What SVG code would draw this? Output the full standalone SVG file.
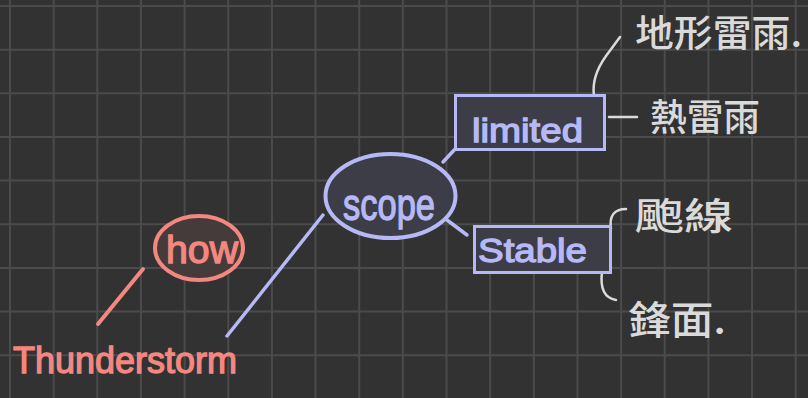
<svg xmlns="http://www.w3.org/2000/svg" width="808" height="398" viewBox="0 0 808 398">
<style>
.grid{stroke:#4b4b4b;stroke-width:2;fill:none}
.red{fill:#f4877f;stroke:#f4877f;stroke-width:1.3}
.blue{fill:#b7b9f7;stroke:#b7b9f7;stroke-width:1.3}
.gray{fill:#dadada}
.hand{font-family:"Liberation Sans",Arial,sans-serif}
.cjk{font-family:"Noto Sans CJK TC","Noto Sans CJK SC",sans-serif;font-weight:500}
.cr{stroke:#f4877f;stroke-width:4;fill:none;stroke-linecap:round}
.cb{stroke:#b7b9f7;stroke-width:3.5;fill:none;stroke-linecap:round}
.cg{stroke:#dadada;stroke-width:2.5;fill:none;stroke-linecap:round}
.bnode{fill:#3c3d47;stroke:#b7b9f7}
</style>
<rect width="808" height="398" fill="#323232"/>
<path class="grid" d="M10,0V398M53.65,0V398M97.3,0V398M140.95,0V398M184.6,0V398M228.25,0V398M271.9,0V398M315.55,0V398M359.2,0V398M402.85,0V398M446.5,0V398M490.15,0V398M533.8,0V398M577.45,0V398M621.1,0V398M664.75,0V398M708.4,0V398M752.05,0V398M795.7,0V398M0,6H808M0,49.65H808M0,93.3H808M0,136.95H808M0,180.6H808M0,224.25H808M0,267.9H808M0,311.55H808M0,355.2H808"/>
<g id="connectors">
<path class="cr" d="M143,269 L98,324"/>
<path class="cb" d="M227,336 L323,215"/>
<path class="cb" d="M443,162 L457,147"/>
<path class="cb" d="M447,220 L467,235"/>
<path class="cg" d="M594,96 C592,82 596,70 606,56 L620,37"/>
<path class="cg" d="M609,117 L637,117"/>
<path class="cg" d="M611,229 C609,216 614,209 626,209"/>
<path class="cg" d="M602,272 C600,288 604,298 616,300"/>
</g>
<g id="node-how">
<ellipse cx="199" cy="248" rx="44" ry="32" fill="#453b3b" stroke="#f4877f" stroke-width="4"/>
<text class="hand red" x="166" y="263" font-size="38" textLength="72" lengthAdjust="spacingAndGlyphs">how</text>
</g>
<g id="node-thunderstorm">
<text class="hand red" x="13" y="373" font-size="36" textLength="224" lengthAdjust="spacingAndGlyphs">Thunderstorm</text>
</g>
<g id="node-scope">
<ellipse cx="390.5" cy="196" rx="65" ry="42" class="bnode" stroke-width="4"/>
<text class="hand blue" x="343" y="220" font-size="44" textLength="92" lengthAdjust="spacingAndGlyphs">scope</text>
</g>
<g id="node-limited">
<rect x="455.5" y="95.5" width="149" height="54" class="bnode" stroke-width="3"/>
<text class="hand blue" x="472" y="142" font-size="33" textLength="111" lengthAdjust="spacingAndGlyphs">limited</text>
</g>
<g id="node-stable">
<rect x="474.5" y="226.5" width="136" height="46" class="bnode" stroke-width="3"/>
<text class="hand blue" x="478" y="262" font-size="34" textLength="109" lengthAdjust="spacingAndGlyphs">Stable</text>
</g>
<g id="node-orographic">
<text class="cjk gray" x="635" y="47" font-size="37" textLength="167" lengthAdjust="spacingAndGlyphs">地形雷雨.</text>
</g>
<g id="node-heat">
<text class="cjk gray" x="650" y="131" font-size="37" textLength="110" lengthAdjust="spacingAndGlyphs">熱雷雨</text>
</g>
<g id="node-squall">
<text class="cjk gray" x="635" y="230" font-size="37" textLength="98" lengthAdjust="spacingAndGlyphs">颮線</text>
</g>
<g id="node-front">
<text class="cjk gray" x="628" y="334" font-size="39" textLength="98" lengthAdjust="spacingAndGlyphs">鋒面.</text>
</g>
</svg>
